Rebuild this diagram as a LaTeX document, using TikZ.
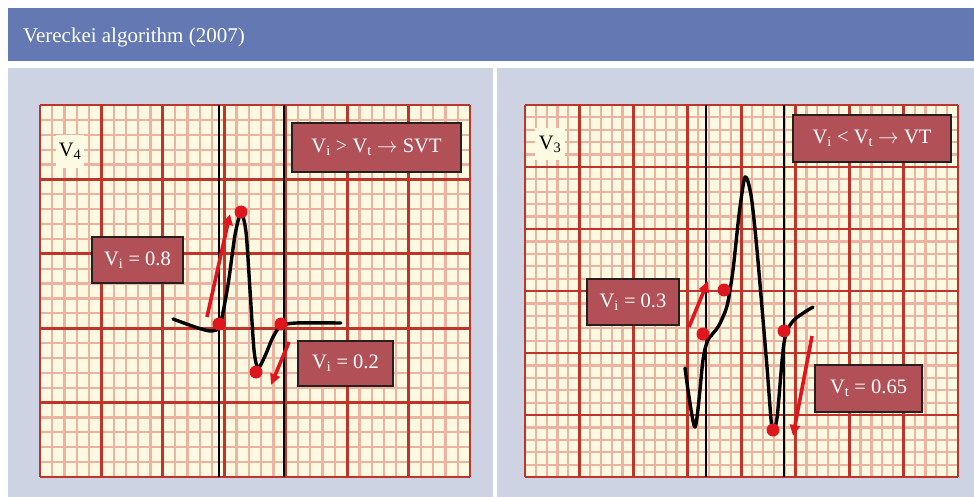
\documentclass[tikz,border=0pt]{standalone}
\usepackage{fontspec}
\usepackage{tikz}
\usepackage{xcolor}
\usetikzlibrary{arrows.meta}
\setmainfont{Liberation Serif}

\definecolor{headblue}{RGB}{100,121,180}
\definecolor{panelbg}{RGB}{206,211,228}
\definecolor{paper}{RGB}{255,249,226}
\definecolor{minorred}{RGB}{236,180,160}
\definecolor{majorred}{RGB}{192,52,42}
\definecolor{labelred}{RGB}{178,80,88}
\definecolor{leadbg}{RGB}{253,250,226}
\definecolor{markred}{RGB}{222,22,30}

\tikzset{
  minorline/.style={minorred,line width=2.2pt},
  majorline/.style={majorred,line width=2.8pt},
  caliper/.style={black,line width=1.8pt},
  ecg/.style={black,line width=3.4pt,line cap=round,line join=round},
  vdot/.style={circle,fill=markred,minimum size=13pt,inner sep=0pt},
  slope/.style={markred,line width=3.6pt,-{Triangle[length=11pt,width=10pt]}},
  valbox/.style={draw={rgb,255:red,40;green,30;blue,30},line width=1.6pt,fill=labelred,
    text=white,inner sep=0pt,font=\fontsize{20.5}{24}\selectfont},
  leadbox/.style={fill=leadbg,inner sep=0pt,font=\fontsize{20.5}{24}\selectfont}
}

\begin{document}
\begin{tikzpicture}[x=1pt,y=-1pt]
  \useasboundingbox (0,0) rectangle (974,497);
  \fill[white] (0,0) rectangle (974,497);
  % header
  \fill[headblue] (8,8) rectangle (974,61);
  \node[anchor=base west,text=white,font=\fontsize{21}{25}\selectfont,inner sep=0pt] (hdr) at (23,43) {Vereckei algorithm (2007)};
  % panels
  \fill[panelbg] (8,68) rectangle (493,497);
  \fill[panelbg] (497,68) rectangle (974,497);

  % left grid
  \fill[paper] (40,105) rectangle (470,477);
  \foreach \i in {0,...,35}
    \draw[minorline] ({40+\i*12.2857},105) -- ({40+\i*12.2857},477);
  \foreach \j in {0,...,25}
    \draw[minorline] (40,{105+\j*14.88}) -- (470,{105+\j*14.88});
  \foreach \i in {0,...,7}
    \draw[majorline] ({40+\i*61.4286},105) -- ({40+\i*61.4286},477);
  \foreach \j in {0,...,5}
    \draw[majorline] (40,{105+\j*74.4}) -- (470,{105+\j*74.4});

  % right grid
  \fill[paper] (525,105) rectangle (958,477);
  \foreach \i in {0,...,40}
    \draw[minorline] ({525+\i*10.825},105) -- ({525+\i*10.825},477);
  \foreach \j in {0,...,30}
    \draw[minorline] (525,{105+\j*12.4}) -- (958,{105+\j*12.4});
  \foreach \i in {0,...,8}
    \draw[majorline] ({525+\i*54.125},105) -- ({525+\i*54.125},477);
  \foreach \j in {0,...,6}
    \draw[majorline] (525,{105+\j*62}) -- (958,{105+\j*62});

  % calipers
  \draw[caliper] (219,105) -- (219,477);
  \draw[caliper] (284,105) -- (284,477);
  \draw[caliper] (706,105) -- (706,477);
  \draw[caliper] (784,105) -- (784,477);

  % left trace (V4)
  \draw[ecg] plot[smooth,tension=0.45] coordinates {(173,319) (198,328) (212,331) (220,325)
    (228,285) (235,235) (241,213) (246,232) (250,290) (254,350) (258,368) (265,356)
    (273,337) (281,326) (296,323) (341,323)};
  \node[vdot] (onsetL) at (219,324) {};
  \node[vdot] (peakL) at (241,212) {};
  \node[vdot] (troughL) at (256,372) {};
  \node[vdot] (endL) at (281,324) {};
  \coordinate (upL0) at (207,317);
  \coordinate (upL1) at (230,214);
  \coordinate (dnL0) at (289,342);
  \coordinate (dnL1) at (271,385);
  \draw[slope] (upL0) -- (upL1);
  \draw[slope] (dnL0) -- (dnL1);

  % right trace (V3)
  \draw[ecg] plot[smooth,tension=0.45] coordinates {(685,368) (695,427) (703,360) (708,340)
    (718,327) (727,306) (733,270) (739,215) (745,177) (751,195) (757,250) (767,367)
    (772,428) (777,418) (784,343) (793,321) (813,307)};
  \node[vdot] (onsetR) at (703,334) {};
  \node[vdot] (stepR) at (724,290) {};
  \node[vdot] (troughR) at (773,430) {};
  \node[vdot] (endR) at (784,331) {};
  \coordinate (upR0) at (689,327);
  \coordinate (upR1) at (708,281);
  \coordinate (dnR0) at (812,336);
  \coordinate (dnR1) at (793,436);
  \draw[slope] (upR0) -- (upR1);
  \draw[slope] (dnR0) -- (dnR1);

  % labels
  \node[leadbox,minimum width=28pt,minimum height=33pt] (leadL) at (70,151.5) {V\textsubscript{4}};
  \node[leadbox,minimum width=30pt,minimum height=32pt] (leadR) at (550,144) {V\textsubscript{3}};
  \node[valbox,minimum width=169pt,minimum height=49pt] (ruleL) at (376.5,147.5) {V\textsubscript{i} > V\textsubscript{t} $\rightarrow$ SVT};
  \node[valbox,minimum width=91pt,minimum height=46pt] (valL1) at (137.5,260) {V\textsubscript{i} = 0.8};
  \node[valbox,minimum width=95pt,minimum height=45pt] (valL2) at (345.5,363.5) {V\textsubscript{i} = 0.2};
  \node[valbox,minimum width=158pt,minimum height=47pt] (ruleR) at (872,138.5) {V\textsubscript{i} < V\textsubscript{t} $\rightarrow$ VT};
  \node[valbox,minimum width=92pt,minimum height=46pt] (valR1) at (633,302) {V\textsubscript{i} = 0.3};
  \node[valbox,minimum width=107pt,minimum height=47pt] (valR2) at (868.5,388.5) {V\textsubscript{t} = 0.65};
\end{tikzpicture}
\end{document}
